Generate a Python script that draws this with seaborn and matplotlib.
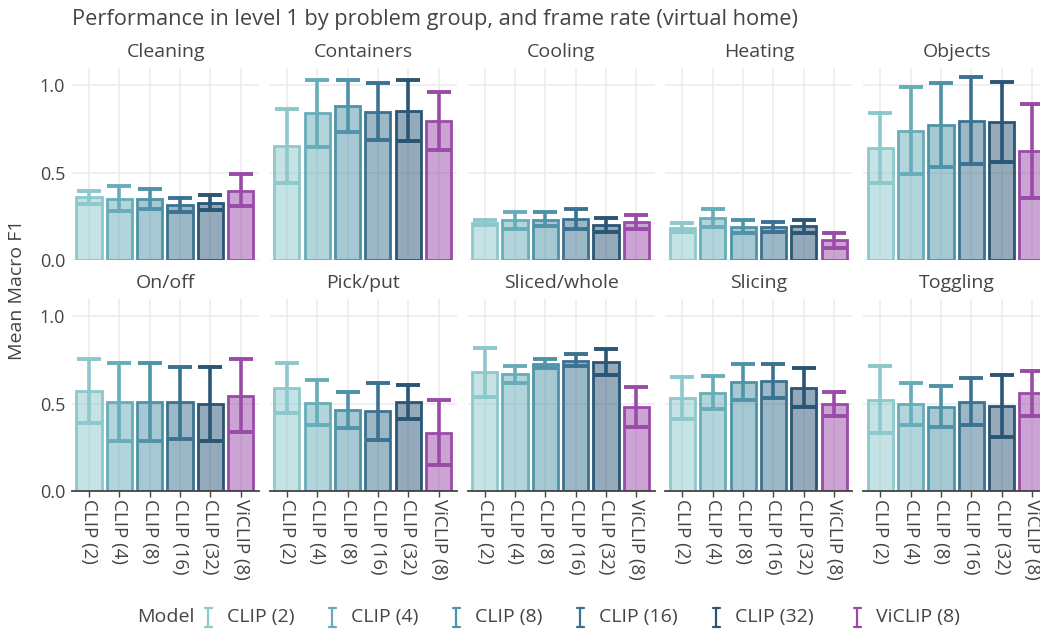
import numpy as np
import pandas as pd
import matplotlib
matplotlib.use("Agg")
import matplotlib.pyplot as plt
import seaborn as sns
from matplotlib.colors import to_rgba
from matplotlib.lines import Line2D

# ---------------- data ----------------
models = ["CLIP (2)", "CLIP (4)", "CLIP (8)", "CLIP (16)", "CLIP (32)", "ViCLIP (8)"]
groups = ["Cleaning", "Containers", "Cooling", "Heating", "Objects",
          "On/off", "Pick/put", "Sliced/whole", "Slicing", "Toggling"]

mean_cleaning = [0.36, 0.352, 0.349, 0.316, 0.328, 0.398]
low_cleaning = [0.32, 0.282, 0.291, 0.276, 0.286, 0.31]
up_cleaning = [0.396, 0.423, 0.408, 0.358, 0.371, 0.49]

mean_containers = [0.653, 0.842, 0.882, 0.848, 0.853, 0.794]
low_containers = [0.444, 0.65, 0.731, 0.686, 0.68, 0.632]
up_containers = [0.867, 1.034, 1.034, 1.013, 1.034, 0.96]

mean_cooling = [0.213, 0.227, 0.232, 0.236, 0.202, 0.217]
low_cooling = [0.198, 0.175, 0.194, 0.175, 0.162, 0.179]
up_cooling = [0.232, 0.276, 0.274, 0.295, 0.242, 0.255]

mean_heating = [0.183, 0.24, 0.19, 0.187, 0.194, 0.114]
low_heating = [0.162, 0.19, 0.154, 0.162, 0.156, 0.067]
up_heating = [0.21, 0.291, 0.227, 0.219, 0.227, 0.156]

mean_objects = [0.64, 0.739, 0.771, 0.798, 0.79, 0.625]
low_objects = [0.442, 0.491, 0.53, 0.552, 0.562, 0.356]
up_objects = [0.84, 0.989, 1.015, 1.046, 1.021, 0.895]

mean_onoff = [0.573, 0.51, 0.51, 0.51, 0.499, 0.547]
low_onoff = [0.387, 0.288, 0.286, 0.299, 0.288, 0.337]
up_onoff = [0.758, 0.735, 0.735, 0.71, 0.71, 0.758]

mean_pickput = [0.592, 0.503, 0.465, 0.457, 0.51, 0.331]
low_pickput = [0.449, 0.377, 0.362, 0.295, 0.415, 0.149]
up_pickput = [0.735, 0.634, 0.57, 0.619, 0.608, 0.524]

mean_sliced = [0.68, 0.67, 0.73, 0.747, 0.739, 0.48]
low_sliced = [0.539, 0.621, 0.707, 0.714, 0.665, 0.364]
up_sliced = [0.819, 0.718, 0.754, 0.785, 0.811, 0.598]

mean_slicing = [0.531, 0.564, 0.623, 0.63, 0.592, 0.497]
low_slicing = [0.411, 0.472, 0.524, 0.53, 0.48, 0.429]
up_slicing = [0.653, 0.659, 0.726, 0.73, 0.707, 0.57]

mean_toggling = [0.522, 0.497, 0.484, 0.51, 0.486, 0.56]
low_toggling = [0.33, 0.377, 0.368, 0.377, 0.31, 0.432]
up_toggling = [0.714, 0.619, 0.6, 0.646, 0.663, 0.69]

yticks = [0.0, 0.5, 1.0]
ytick_labels = ["0.0", "0.5", "1.0"]

# --------------- styling -----------------
colors = ["#8cc8cc", "#67adb9", "#4f93a8", "#3b7291", "#2a5575", "#9a4ba8"]
palette = dict(zip(models, colors))

means = [mean_cleaning, mean_containers, mean_cooling, mean_heating, mean_objects,
         mean_onoff, mean_pickput, mean_sliced, mean_slicing, mean_toggling]
lows = [low_cleaning, low_containers, low_cooling, low_heating, low_objects,
        low_onoff, low_pickput, low_sliced, low_slicing, low_toggling]
ups = [up_cleaning, up_containers, up_cooling, up_heating, up_objects,
       up_onoff, up_pickput, up_sliced, up_slicing, up_toggling]

rows = []
for g, m, lo, hi in zip(groups, means, lows, ups):
    for mod, a, b, c in zip(models, m, lo, hi):
        rows.append({"group": g, "model": mod, "mean": a, "low": b, "up": c})
df = pd.DataFrame(rows)

sns.set_theme(style="white")
plt.rcParams["font.family"] = ["Open Sans", "DejaVu Sans"]
TXT = "#444444"

W, H = 1040, 629
fig = plt.figure(figsize=(W / 100, H / 100), dpi=100)

lefts = [72 + 197.8 * i for i in range(5)]
row_bottoms = [260, 491]
ax_w, ax_h = 187, 192

for idx, g in enumerate(groups):
    r, c = divmod(idx, 5)
    ax = fig.add_axes([lefts[c] / W, 1 - row_bottoms[r] / H, ax_w / W, ax_h / H])
    sub = df[df["group"] == g]
    sns.barplot(data=sub, x="model", y="mean", hue="model", palette=palette,
                order=models, hue_order=models, errorbar=None, width=0.83,
                legend=False, ax=ax, zorder=2)
    for patch, col in zip(ax.patches, colors):
        patch.set_facecolor(to_rgba(col, 0.5))
        patch.set_edgecolor(col)
        patch.set_linewidth(2.0)
    for i, (mod, col) in enumerate(zip(models, colors)):
        rr = sub[sub["model"] == mod].iloc[0]
        ax.errorbar([i], [rr["mean"]],
                    yerr=[[rr["mean"] - rr["low"]], [rr["up"] - rr["mean"]]],
                    fmt="none", ecolor=col, elinewidth=2.6, capsize=8.3,
                    capthick=2.8, zorder=3)
    ax.set_xlim(-0.56, 5.6)
    ax.set_ylim(0, 1.1)
    ax.set_yticks(yticks)
    ax.set_xticks(range(len(models)))
    ax.grid(True, color="#ebebeb", linewidth=1.1, zorder=0)
    ax.set_axisbelow(True)
    for s in ax.spines.values():
        s.set_visible(False)
    ax.set_xlabel("")
    ax.set_ylabel("")
    if c == 0:
        ax.set_yticklabels(ytick_labels, color=TXT, fontsize=13)
        ax.tick_params(axis="y", length=0, pad=5)
    else:
        ax.set_yticklabels([])
        ax.tick_params(axis="y", length=0)
    if r == 1:
        ax.spines["bottom"].set_visible(True)
        ax.spines["bottom"].set_color(TXT)
        ax.spines["bottom"].set_linewidth(1.3)
        ax.set_xticklabels(models, rotation=-90, color=TXT, fontsize=13.5)
        ax.tick_params(axis="x", length=4, width=1, color=TXT, pad=2, bottom=True)
    else:
        ax.set_xticklabels([])
        ax.tick_params(axis="x", length=0)
    ax.text(0.5, 1 + 16 / ax_h, g, transform=ax.transAxes, ha="center",
            va="center", fontsize=14, color=TXT)

fig.text(72 / W, 1 - 20 / H, "Performance in level 1 by problem group, and frame rate (virtual home)",
         ha="left", va="center", fontsize=15.7, color=TXT)
fig.text(17 / W, 1 - 290 / H, "Mean Macro F1", rotation=90, ha="center",
         va="center", fontsize=14, color=TXT)

# legend
ly = 617
fig.text(137 / W, 1 - ly / H, "Model", ha="left", va="center", fontsize=14, color=TXT)
text_x = [227, 351, 475, 599, 735, 876]
for mod, col, tx in zip(models, colors, text_x):
    gx = tx - 19
    half_h, half_c = 9.5, 3.5
    fig.add_artist(Line2D([gx / W, gx / W], [1 - (ly - half_h) / H, 1 - (ly + half_h) / H],
                          transform=fig.transFigure, color=col, lw=1.6))
    for yy in (ly - half_h, ly + half_h):
        fig.add_artist(Line2D([(gx - half_c) / W, (gx + half_c) / W], [1 - yy / H, 1 - yy / H],
                              transform=fig.transFigure, color=col, lw=1.6))
    fig.text(tx / W, 1 - ly / H, mod, ha="left", va="center", fontsize=14, color=TXT)

fig.savefig("out.png", dpi=100)
